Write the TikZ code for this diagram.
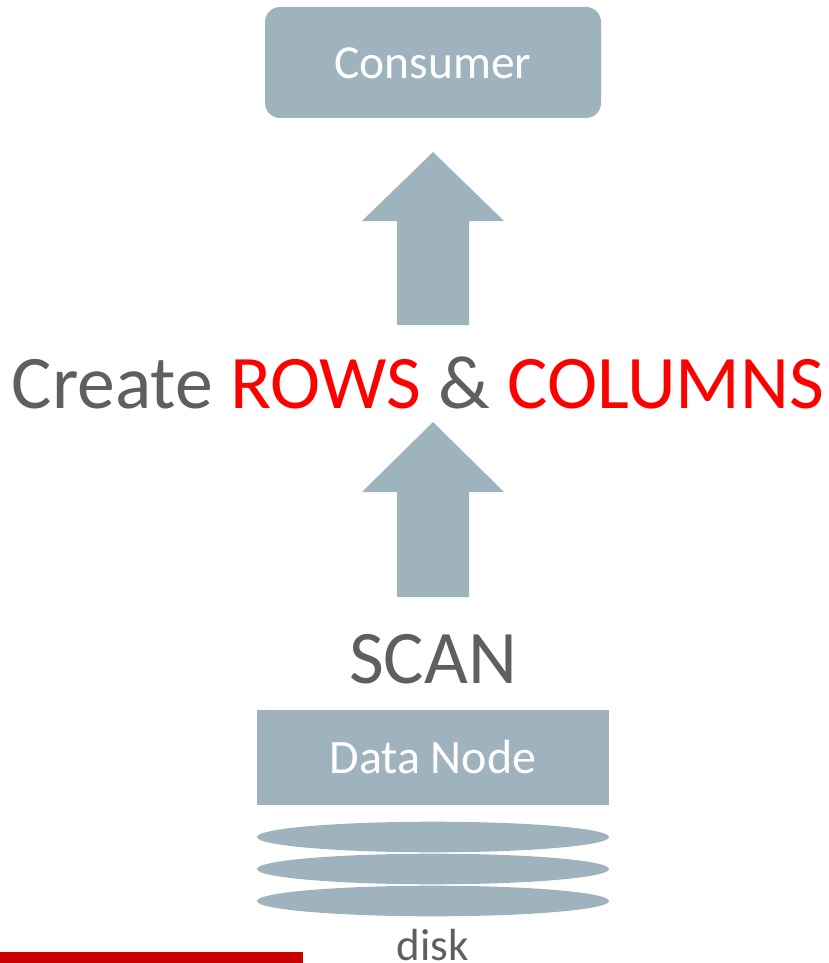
\documentclass[tikz,border=0pt]{standalone}
\usepackage{fontspec}
\setmainfont{Carlito}
\definecolor{boxblue}{HTML}{9FB3BE}
\definecolor{txtgray}{HTML}{5F5F5F}
\definecolor{hired}{HTML}{FF0000}
\definecolor{barred}{HTML}{C80000}
\begin{document}
\begin{tikzpicture}[x=1pt,y=-1pt,
  boxfill/.style={fill=boxblue,draw=none},
  whitetxt/.style={text=white,inner sep=0pt,anchor=base},
  graytxt/.style={text=txtgray,inner sep=0pt,anchor=base}]
\useasboundingbox (0,0) rectangle (829,963);
% Consumer box
\fill[boxblue,rounded corners=15pt] (265,7) rectangle (601,118);
\node[whitetxt,font=\fontsize{47.5}{52}\selectfont] (consumer) at (433,79) {Consumer};
% arrow 1
\fill[boxblue] (433,152) -- (504,221) -- (469,221) -- (469,325) -- (397,325) -- (397,221) -- (362,221) -- cycle;
% main text
\node[graytxt,font=\fontsize{75.7}{80}\selectfont] (create) at (418,408) {Create \textcolor{hired}{ROWS} \& \textcolor{hired}{COLUMNS}};
% arrow 2
\fill[boxblue] (433,422) -- (504,492) -- (469,492) -- (469,597) -- (397,597) -- (397,492) -- (362,492) -- cycle;
\node[graytxt,font=\fontsize{75.7}{80}\selectfont] (scan) at (433,683) {SCAN};
% data node
\fill[boxblue] (257,710) rectangle (609,805);
\node[whitetxt,font=\fontsize{48}{52}\selectfont] (datanode) at (433,773) {Data Node};
% disks
\fill[boxblue] (433,837) ellipse [x radius=176, y radius=15.3];
\fill[boxblue] (433,869) ellipse [x radius=176, y radius=15.3];
\fill[boxblue] (433,901) ellipse [x radius=176, y radius=15.3];
\node[graytxt,font=\fontsize{45}{50}\selectfont] (disk) at (433,960) {disk};
% red bar
\fill[barred] (0,952) rectangle (303,963);
\end{tikzpicture}
\end{document}
